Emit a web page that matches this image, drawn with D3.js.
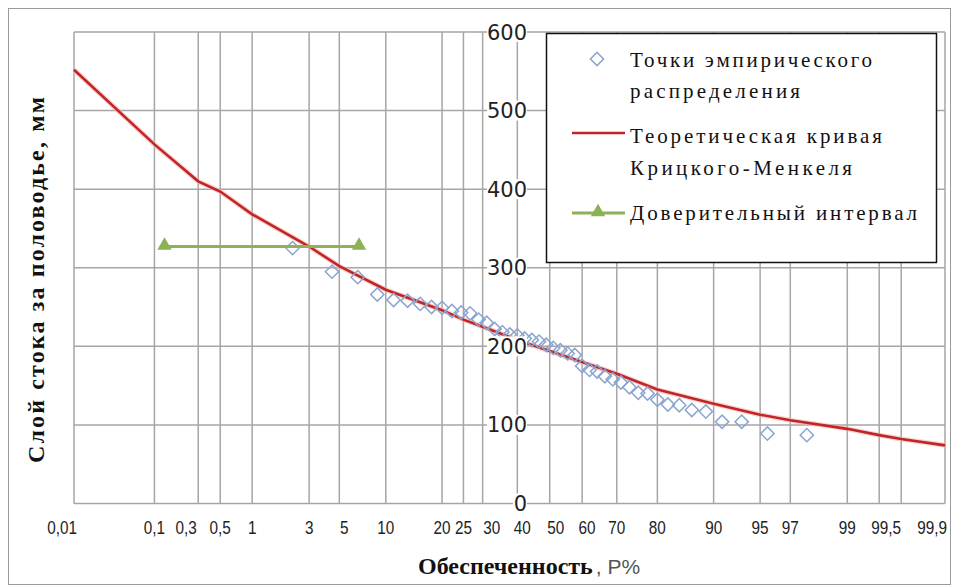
<!DOCTYPE html>
<html lang="ru">
<head>
<meta charset="utf-8">
<title>Кривая обеспеченности</title>
<script src="https://d3js.org/d3.v7.min.js"></script>
<style>
    body { margin: 0; background: #fff; }
    #chart svg { display: block; }
    .grid line { stroke: #a6a6a6; stroke-width: 1.5px; }
    .xlab { font-family: "Liberation Sans", Arial, sans-serif; font-size: 18px; fill: #222; }
    .ylab { font-family: "DejaVu Sans", Verdana, sans-serif; font-size: 21px; fill: #222; }
    .title { font-family: "Liberation Serif", "Times New Roman", serif; font-size: 24px; font-weight: bold; fill: #111; }
</style>
</head>
<body>
<div id="chart"></div>
<script>
    var WIDTH = 960, HEIGHT = 588;

    // probability grid (P, %) and its labels
    var gridP = [0.01, 0.1, 0.3, 0.5, 1, 3, 5, 10, 20, 25, 30, 40, 50, 60, 70, 80, 90, 95, 97, 99, 99.5, 99.7, 99.9];
    var tickP = [0.01, 0.1, 0.3, 0.5, 1, 3, 5, 10, 20, 25, 30, 40, 50, 60, 70, 80, 90, 95, 97, 99, 99.5, 99.9];
    var tickText = ["0,01", "0,1", "0,3", "0,5", "1", "3", "5", "10", "20", "25", "30", "40", "50", "60", "70", "80", "90", "95", "97", "99", "99,5", "99,9"];
    var yTicks = [0, 100, 200, 300, 400, 500, 600];

    // theoretical Kritsky-Menkel curve
    var curveP = [0.01, 0.1, 0.3, 0.5, 1, 3, 5, 10, 20, 25, 30, 40, 50, 60, 70, 80, 90, 95, 97, 99, 99.5, 99.7, 99.9];
    var curveQ = [552, 457, 410, 397, 368, 327, 302, 272, 246, 234, 225, 208, 194, 180, 165, 145, 127, 113, 106, 95, 87, 82, 74];

    // empirical points
    var empP = [2.22, 4.44, 6.67, 8.89, 11.11, 13.33, 15.56, 17.78, 20.00, 22.22, 24.44, 26.67, 28.89, 31.11, 33.33,
        35.56, 37.78, 40.00, 42.22, 44.44, 46.67, 48.89, 51.11, 53.33, 55.56, 57.78, 60.00, 62.22, 64.44, 66.67,
        68.89, 71.11, 73.33, 75.56, 77.78, 80.00, 82.22, 84.44, 86.67, 88.89, 91.11, 93.33, 95.56, 97.78];
    var empQ = [325, 295, 288, 266, 259, 258, 254, 250, 249, 245, 243, 242, 234, 230, 222,
        218, 215, 214, 210, 208, 206, 202, 198, 195, 191, 189, 175, 170, 168, 162,
        158, 154, 148, 141, 140, 132, 126, 125, 119, 117, 104, 104, 89, 87];

    // confidence interval
    var ciP = [0.13, 6.8];
    var ciQ = [327, 327];

    var legendText = [["Точки эмпирического", "распределения"], ["Теоретическая кривая", "Крицкого-Менкеля"], ["Доверительный интервал"]];

    // inverse normal CDF (Acklam)
    function probit(p) {
        var a = [-39.69683028665376, 220.9460984245205, -275.9285104469687, 138.3577518672690, -30.66479806614716, 2.506628277459239];
        var b = [-54.47609879822406, 161.5858368580409, -155.6989798598866, 66.80131188771972, -13.28068155288572];
        var c = [-0.007784894002430293, -0.3223964580411365, -2.400758277161838, -2.549732539343734, 4.374664141464968, 2.938163982698783];
        var d = [0.007784695709041462, 0.3224671290700398, 2.445134137142996, 3.754408661907416];
        var q, r;
        if (p < 0.02425) {
            q = Math.sqrt(-2 * Math.log(p));
            return (((((c[0] * q + c[1]) * q + c[2]) * q + c[3]) * q + c[4]) * q + c[5]) /
                ((((d[0] * q + d[1]) * q + d[2]) * q + d[3]) * q + 1);
        }
        if (p > 1 - 0.02425) {
            q = Math.sqrt(-2 * Math.log(1 - p));
            return -(((((c[0] * q + c[1]) * q + c[2]) * q + c[3]) * q + c[4]) * q + c[5]) /
                ((((d[0] * q + d[1]) * q + d[2]) * q + d[3]) * q + 1);
        }
        q = p - 0.5;
        r = q * q;
        return (((((a[0] * r + a[1]) * r + a[2]) * r + a[3]) * r + a[4]) * r + a[5]) * q /
            (((((b[0] * r + b[1]) * r + b[2]) * r + b[3]) * r + b[4]) * r + 1);
    }

    var plotL = 74, plotR = 945, plotT = 32, plotB = 503.5;

    var zScale = d3.scaleLinear()
        .domain([probit(0.0001), probit(0.999)])
        .range([plotL, plotR]);
    var x = function (p) { return zScale(probit(p / 100)); };
    var y = d3.scaleLinear()
        .domain([0, 600])
        .range([plotB, plotT]);

    var svg = d3.select("#chart")
        .append("svg")
        .attr("width", WIDTH)
        .attr("height", HEIGHT);

    // chart border
    svg.append("rect")
        .attr("x", 8.5).attr("y", 8.5)
        .attr("width", 942).attr("height", 576)
        .attr("fill", "#fff")
        .attr("stroke", "#9a9a9a")
        .attr("stroke-width", 1);

    // grid
    var grid = svg.append("g").attr("class", "grid");
    grid.selectAll(".v").data(gridP)
        .enter().append("line")
        .attr("x1", d => x(d)).attr("x2", d => x(d))
        .attr("y1", plotT).attr("y2", plotB);
    grid.selectAll(".h").data(yTicks)
        .enter().append("line")
        .attr("x1", plotL).attr("x2", plotR)
        .attr("y1", d => y(d)).attr("y2", d => y(d));

    // x tick labels (narrow font look); a few are nudged sideways as in the original
    var nudge = { "0,01": -12, "0,3": -12, "5": 5, "30": 9, "40": 5, "50": 6, "60": 5, "99,5": 7, "99,9": -13 };
    svg.append("g").selectAll("text")
        .data(tickP)
        .enter().append("text")
        .attr("class", "xlab")
        .attr("text-anchor", "middle")
        .attr("transform", function (d, i) {
            var px = x(d) + (nudge[tickText[i]] || 0);
            return "translate(" + px + ",534) scale(0.85,1)";
        })
        .text((d, i) => tickText[i]);

    // curve
    var line = d3.line()
        .x(d => x(d[0]))
        .y(d => y(d[1]));

    svg.append("path")
        .attr("d", line(curveP.map((p, i) => [p, curveQ[i]])))
        .attr("fill", "none")
        .attr("stroke", "#f3b7a8")
        .attr("stroke-width", 5)
        .attr("opacity", 0.6);
    svg.append("path")
        .attr("d", line(curveP.map((p, i) => [p, curveQ[i]])))
        .attr("fill", "none")
        .attr("stroke", "#c3242a")
        .attr("stroke-width", 2.6);

    // empirical points
    var diamond = d3.symbol().type(d3.symbolSquare).size(88);
    svg.append("g").selectAll("path")
        .data(empP)
        .enter().append("path")
        .attr("d", diamond)
        .attr("transform", (d, i) => "translate(" + x(d) + "," + y(empQ[i]) + ") rotate(45)")
        .attr("fill", "none")
        .attr("stroke", "#8aa5d0")
        .attr("stroke-width", 1.5);

    // confidence interval
    svg.append("path")
        .attr("d", line(ciP.map((p, i) => [p, ciQ[i]])))
        .attr("fill", "none")
        .attr("stroke", "#8db255")
        .attr("stroke-width", 3);
    var tri = d3.symbol().type(d3.symbolTriangle).size(90);
    svg.append("g").selectAll("path")
        .data(ciP)
        .enter().append("path")
        .attr("d", tri)
        .attr("transform", (d, i) => "translate(" + x(d) + "," + (y(ciQ[i]) - 1) + ")")
        .attr("fill", "#8db255");

    // y tick labels, over the grid with white backing
    var yl = svg.append("g").selectAll("g")
        .data(yTicks)
        .enter().append("g")
        .attr("transform", d => "translate(527," + y(d) + ")");
    yl.append("rect")
        .attr("x", d => d === 0 ? -14 : -40).attr("y", -10)
        .attr("width", d => d === 0 ? 14 : 40).attr("height", 20)
        .attr("fill", "#fff");
    yl.append("text")
        .attr("class", "ylab")
        .attr("text-anchor", "end")
        .attr("dy", "0.36em")
        .text(d => d);

    // legend
    var lg = svg.append("g");
    lg.append("rect")
        .attr("x", 546.5).attr("y", 33.5)
        .attr("width", 390).attr("height", 229)
        .attr("fill", "#fff")
        .attr("stroke", "#111")
        .attr("stroke-width", 1.5);
    lg.append("path")
        .attr("d", diamond)
        .attr("transform", "translate(597,59) rotate(45)")
        .attr("fill", "none")
        .attr("stroke", "#8aa5d0")
        .attr("stroke-width", 1.5);
    lg.append("line")
        .attr("x1", 572).attr("x2", 625).attr("y1", 133).attr("y2", 133)
        .attr("stroke", "#c3242a").attr("stroke-width", 2.6);
    lg.append("line")
        .attr("x1", 572).attr("x2", 625).attr("y1", 213).attr("y2", 213)
        .attr("stroke", "#8db255").attr("stroke-width", 3);
    lg.append("path")
        .attr("d", tri)
        .attr("transform", "translate(598,212)")
        .attr("fill", "#8db255");

    var baselines = [[67, 98], [143, 175], [220]];
    var widths = [[242, 170], [252, 222], [287]];
    legendText.forEach(function (lines, k) {
        lines.forEach(function (t, j) {
            lg.append("text")
                .attr("x", 630)
                .attr("y", baselines[k][j])
                .style("font-family", "'Liberation Serif', 'Times New Roman', serif")
                .style("font-size", "21px")
                .attr("fill", "#111")
                .attr("textLength", widths[k][j])
                .attr("lengthAdjust", "spacing")
                .text(t);
        });
    });

    // axis titles
    svg.append("text")
        .attr("class", "title")
        .attr("transform", "translate(44,280) rotate(-90)")
        .attr("text-anchor", "middle")
        .attr("textLength", 366)
        .attr("lengthAdjust", "spacing")
        .text("Слой стока за половодье, мм");

    var xt = svg.append("text")
        .attr("x", 418)
        .attr("y", 574);
    xt.append("tspan")
        .attr("class", "title")
        .text("Обеспеченность");
    xt.append("tspan")
        .style("font-family", "'Liberation Sans', Arial, sans-serif")
        .style("font-size", "21px")
        .attr("fill", "#555")
        .attr("dx", 3)
        .text(", Р%");
</script>
</body>
</html>
